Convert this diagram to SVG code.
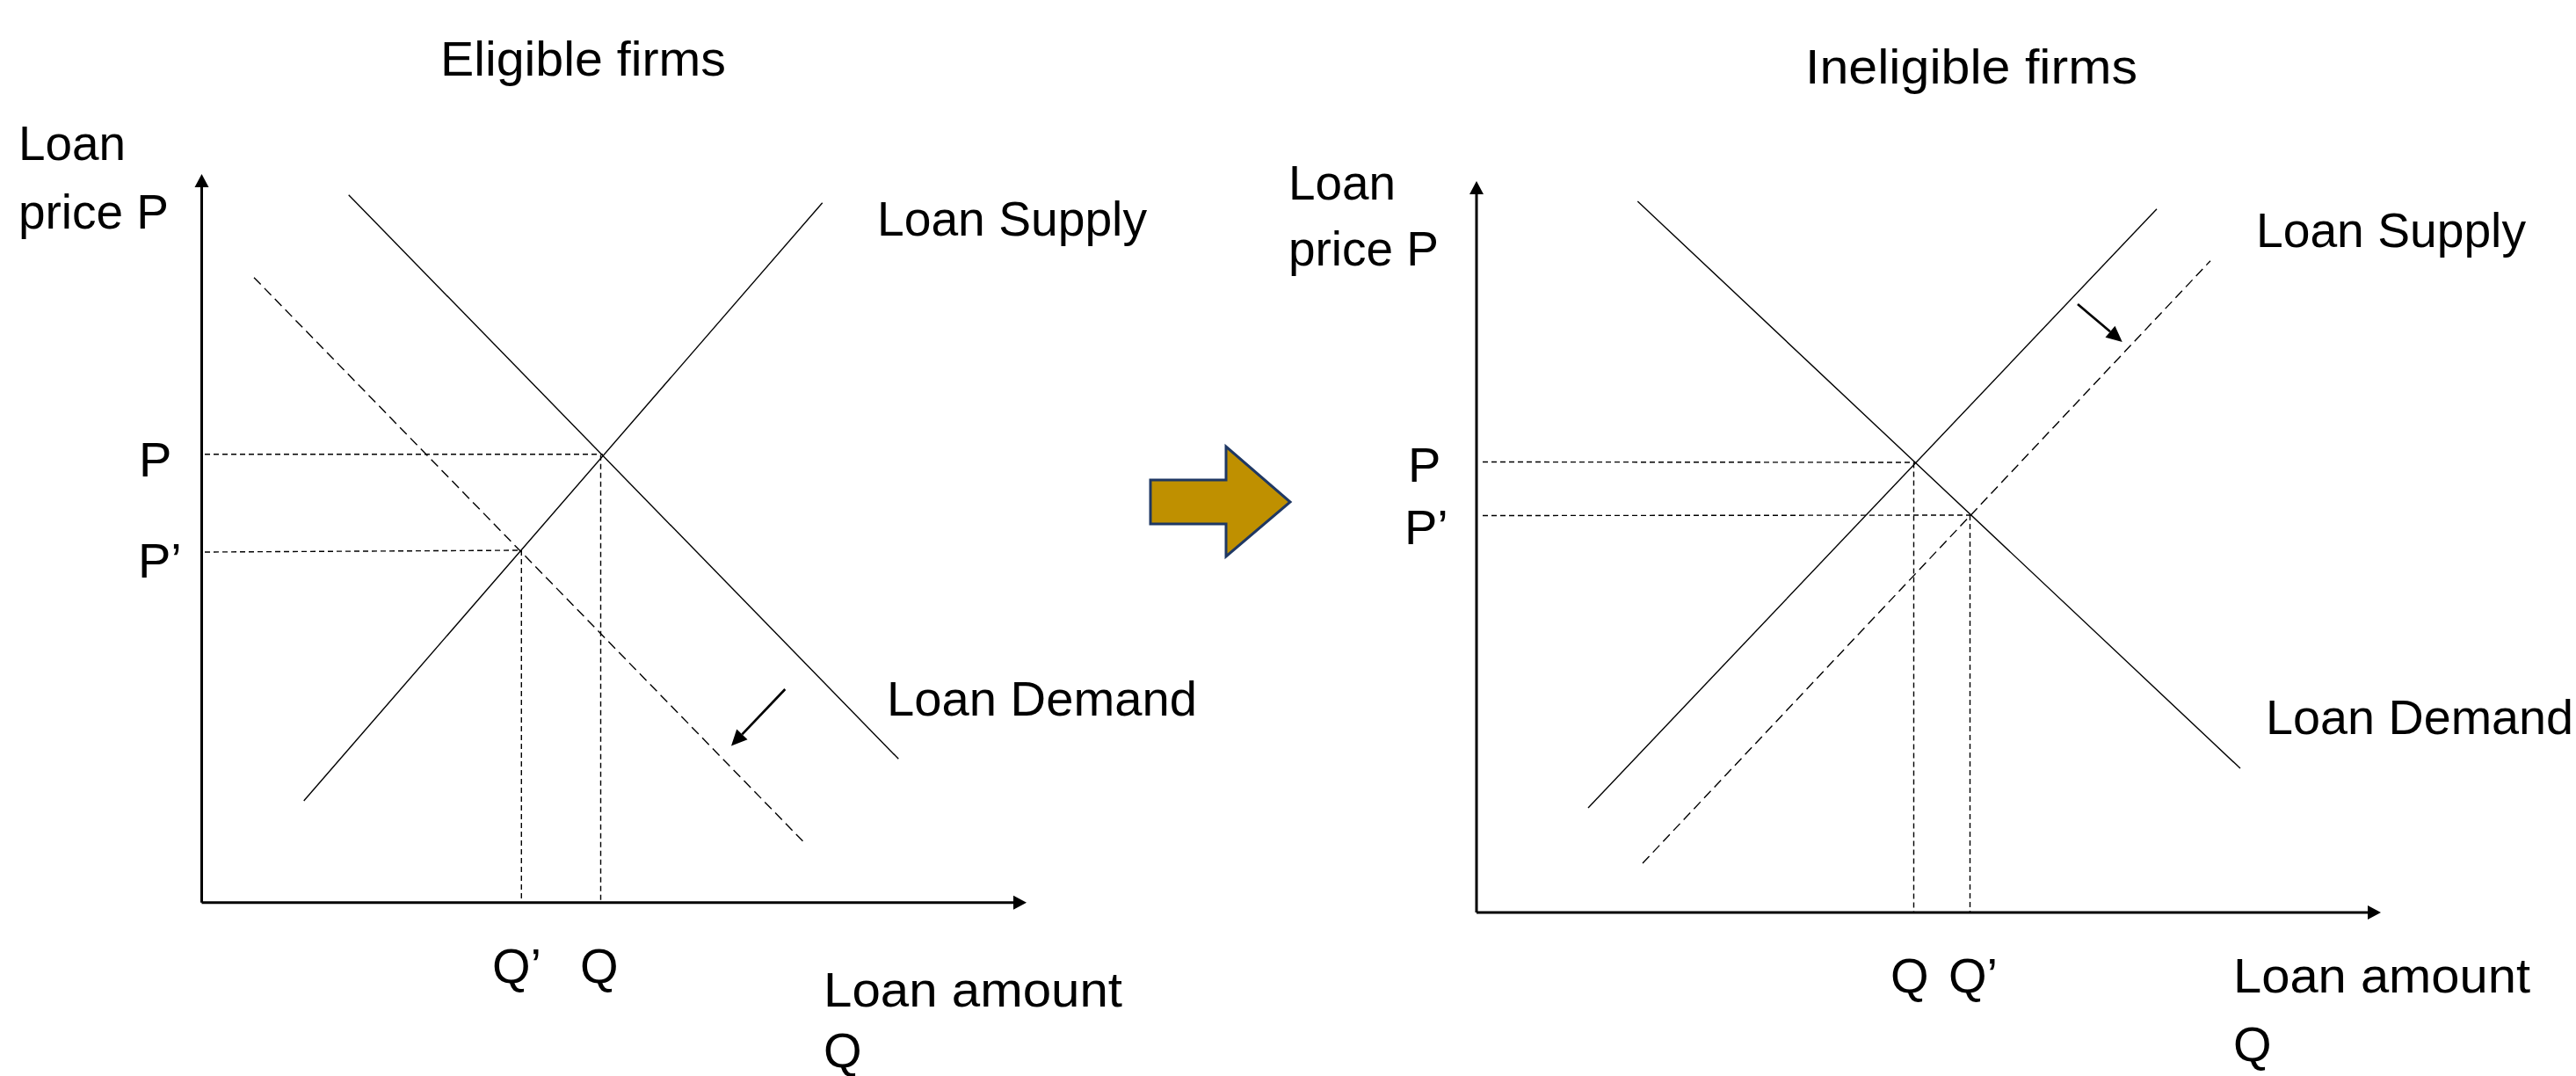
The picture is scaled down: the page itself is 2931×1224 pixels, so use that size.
<svg xmlns="http://www.w3.org/2000/svg" width="2931" height="1224" viewBox="0 0 2931 1224">
<style>
text{font-family:"Liberation Sans",Arial,sans-serif;font-size:56px;fill:#000}
.axis{stroke:#000;stroke-width:3;fill:none}
.curve{stroke:#000;stroke-width:1.4;fill:none}
.shift{stroke:#000;stroke-width:1.4;fill:none;stroke-dasharray:11 6}
.guide{stroke:#000;stroke-width:1.4;fill:none;stroke-dasharray:6 4}
.move{stroke:#000;stroke-width:2.7;fill:none}
</style>
<defs>
<marker id="axhead" markerUnits="userSpaceOnUse" markerWidth="16" markerHeight="18" refX="0" refY="8" orient="auto" viewBox="0 0 16 16" overflow="visible">
<path d="M0,0 L15,8 L0,16 Z" fill="#000"/>
</marker>
<marker id="mvhead" markerUnits="userSpaceOnUse" markerWidth="18" markerHeight="18" refX="0" refY="8" orient="auto" viewBox="0 0 17 16" overflow="visible">
<path d="M0,0 L17,8 L0,16 Z" fill="#000"/>
</marker>
</defs>

<g id="eligible-chart">
<text x="501" y="86" textLength="325" lengthAdjust="spacingAndGlyphs">Eligible firms</text>
<text x="21" y="182" textLength="122" lengthAdjust="spacingAndGlyphs">Loan</text>
<text x="21" y="260" textLength="171" lengthAdjust="spacingAndGlyphs">price P</text>
<text x="158" y="542">P</text>
<text x="157" y="657">P’</text>
<text x="560" y="1118">Q’</text>
<text x="660" y="1118">Q</text>
<text x="937" y="1145" textLength="340" lengthAdjust="spacingAndGlyphs">Loan amount</text>
<text x="937" y="1214">Q</text>
<text x="998" y="268" textLength="307" lengthAdjust="spacingAndGlyphs">Loan Supply</text>
<text x="1009" y="814" textLength="353" lengthAdjust="spacingAndGlyphs">Loan Demand</text>
</g>

<g id="eligible-lines">
<line class="axis" x1="229.5" y1="1026.7" x2="229.5" y2="213" marker-end="url(#axhead)"/>
<line class="axis" x1="229.5" y1="1026.7" x2="1153" y2="1026.7" marker-end="url(#axhead)"/>
<line class="curve" x1="345.7" y1="911" x2="935.7" y2="230.7"/>
<line class="curve" x1="396.7" y1="221.7" x2="1022.3" y2="863.3"/>
<line class="shift" x1="289" y1="315.7" x2="914.3" y2="957.7"/>
<line class="guide" x1="233" y1="516.7" x2="685.7" y2="516.7"/>
<line class="guide" x1="233" y1="628" x2="592.3" y2="626"/>
<line class="guide" x1="683.5" y1="517.7" x2="683.5" y2="1026"/>
<line class="guide" x1="593.3" y1="626" x2="593.3" y2="1026"/>
<line class="move" x1="893.3" y1="784" x2="844.4" y2="835.4" marker-end="url(#mvhead)"/>
</g>

<g id="transition-arrow">
<polygon points="1309,546 1395,546 1395,508 1468,571 1395,633 1395,596 1309,596" fill="#BF9000" stroke="#1F3864" stroke-width="3" stroke-linejoin="miter"/>
</g>

<g id="ineligible-chart">
<text x="2054" y="95" textLength="378" lengthAdjust="spacingAndGlyphs">Ineligible firms</text>
<text x="1466" y="227" textLength="122" lengthAdjust="spacingAndGlyphs">Loan</text>
<text x="1466" y="302" textLength="171" lengthAdjust="spacingAndGlyphs">price P</text>
<text x="1602" y="548">P</text>
<text x="1598" y="619">P’</text>
<text x="2151" y="1129">Q</text>
<text x="2217" y="1129">Q’</text>
<text x="2541" y="1129" textLength="338" lengthAdjust="spacingAndGlyphs">Loan amount</text>
<text x="2541" y="1207">Q</text>
<text x="2567" y="281" textLength="307" lengthAdjust="spacingAndGlyphs">Loan Supply</text>
<text x="2578" y="835" textLength="350" lengthAdjust="spacingAndGlyphs">Loan Demand</text>
</g>

<g id="ineligible-lines">
<line class="axis" x1="1680" y1="1038" x2="1680" y2="221" marker-end="url(#axhead)"/>
<line class="axis" x1="1680" y1="1038" x2="2694" y2="1038" marker-end="url(#axhead)"/>
<line class="curve" x1="1863.3" y1="229" x2="2549" y2="874"/>
<line class="curve" x1="1807" y1="919" x2="2454" y2="237.7"/>
<line class="shift" x1="1869" y1="982" x2="2515" y2="296.7"/>
<line class="guide" x1="1687" y1="525.5" x2="2179.3" y2="526"/>
<line class="guide" x1="1687" y1="586.5" x2="2242.5" y2="586"/>
<line class="guide" x1="2177.5" y1="526.5" x2="2177.5" y2="1038"/>
<line class="guide" x1="2241.5" y1="586" x2="2241.5" y2="1038"/>
<line class="move" x1="2364" y1="346" x2="2401" y2="377.3" marker-end="url(#mvhead)"/>
</g>
</svg>
